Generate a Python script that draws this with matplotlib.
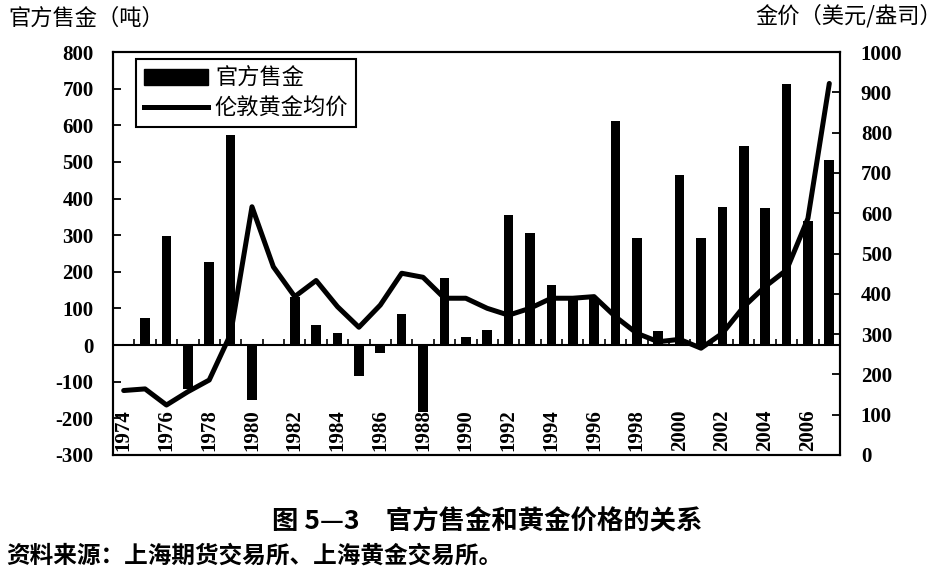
import numpy as np
import matplotlib.pyplot as plt
from matplotlib.patches import Patch
from matplotlib.lines import Line2D

plt.rcParams['font.family'] = ['Noto Sans CJK SC', 'DejaVu Sans']

# 年份与数据
years = list(range(1974, 2008))
sales = [0, 73, 298, -121, 227, 574, -150, 3, 130, 54, 32, -85, -22, 86, -182, 182,
         22, 40, 355, 305, 164, 135, 129, 612, 291, 38, 464, 291, 378, 544, 373, 714,
         339, 505]
price = [160, 164, 124, 157, 186, 300, 616, 467, 393, 433, 368, 317, 372, 451, 441, 389,
         389, 364, 347, 364, 389, 389, 393, 343, 302, 281, 287, 265, 302, 368, 418, 459,
         587, 922]

left_ticks = [-300, -200, -100, 0, 100, 200, 300, 400, 500, 600, 700, 800]
right_ticks = [0, 100, 200, 300, 400, 500, 600, 700, 800, 900, 1000]

num_font = dict(family='Liberation Serif', weight='bold', size=15)

fig = plt.figure(figsize=(9.48, 5.81), dpi=100)
ax = fig.add_axes([113/948, 126/581, 727/948, 403/581])
x = np.arange(len(years))

ax.bar(x, sales, width=0.45, color='black', zorder=2)
ax.axhline(0, color='black', lw=1.5, zorder=3)
# 分类刻度（画在零线上）
ax.vlines(x[:-1] + 0.5, 0, 16, color='black', lw=1.2, zorder=3)

ax.set_xlim(-0.5, len(years) - 0.5)
ax.set_ylim(-300, 800)
ax.set_yticks(left_ticks)
ax.set_yticklabels([str(v) for v in left_ticks], fontdict=num_font)
ax.tick_params(axis='y', direction='in', length=6, width=1.3, pad=14)
ax.set_xticks([])

for i, yr in enumerate(years):
    if (yr - 1974) % 2 == 0:
        ax.text(i, 0.01, str(yr), rotation=90, ha='center', va='bottom',
                transform=ax.get_xaxis_transform(), **num_font)

ax2 = ax.twinx()
ax2.plot(x, price, color='black', lw=3.6, solid_capstyle='round', zorder=4)
ax2.set_ylim(0, 1000)
ax2.set_yticks(right_ticks)
ax2.set_yticklabels([str(v) for v in right_ticks], fontdict=num_font)
ax2.tick_params(axis='y', direction='in', length=6, width=1.3, pad=15)

for a in (ax, ax2):
    for s in a.spines.values():
        s.set_linewidth(1.5)

handles = [Patch(facecolor='black', edgecolor='black'),
           Line2D([0], [0], color='black', lw=3.6)]
leg = ax.legend(handles, ['官方售金', '伦敦黄金均价'], loc='upper left',
                bbox_to_anchor=(23/727, 1 - 7/403), borderaxespad=0, fancybox=False,
                framealpha=1, edgecolor='black',
                prop=dict(family='Noto Sans CJK SC', size=16),
                handlelength=2.9, handletextpad=0.3, borderpad=0.35, labelspacing=0.3)
leg.get_frame().set_linewidth(1.5)
leg.set_zorder(10)

fig.text(8/948, 1 - 18/581, '官方售金（吨）', ha='left', va='center', fontsize=16)
fig.text(942/948, 1 - 16/581, '金价（美元/盎司）', ha='right', va='center', fontsize=16)
fig.text(487/948, 1 - 522/581, '图 5—3　官方售金和黄金价格的关系', ha='center',
         va='center', fontsize=19, fontweight='bold')
fig.text(6/948, 1 - 556/581, '资料来源：上海期货交易所、上海黄金交易所。', ha='left',
         va='center', fontsize=17, fontweight='bold')

fig.savefig('out.png', dpi=100)
